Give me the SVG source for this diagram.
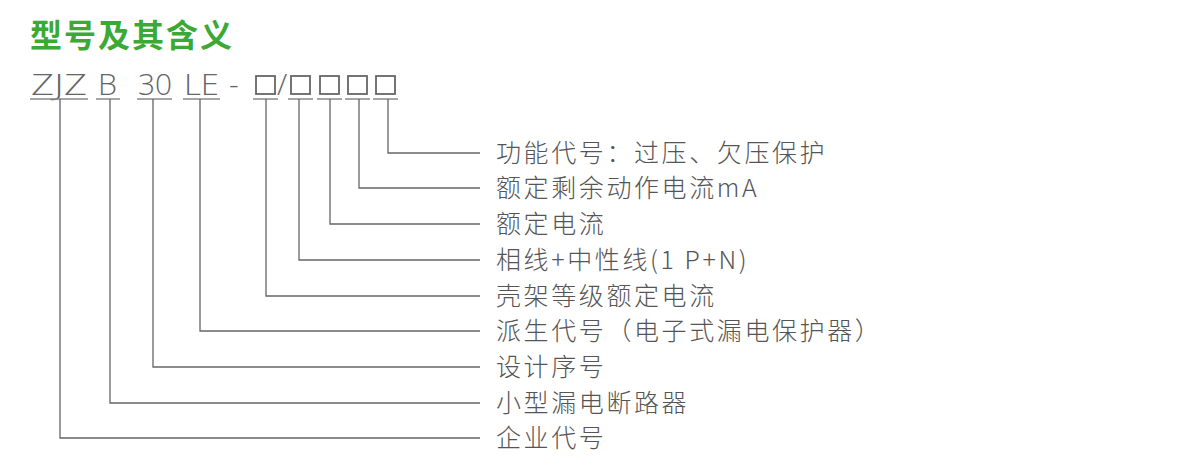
<svg xmlns="http://www.w3.org/2000/svg" width="1203" height="465" viewBox="0 0 1203 465">
<style>
.t{font-family:"Noto Sans CJK SC",sans-serif;fill:#555;font-size:25px;font-weight:300;letter-spacing:2.6px}
.c{font-family:"Open Sans","Liberation Sans",sans-serif;fill:#666;font-size:30px;font-weight:300}
.l{stroke:#666;stroke-width:1.3;fill:none}
.u{stroke:#888;stroke-width:1.5}
.b{stroke:#666;stroke-width:1.8;fill:none}
</style>
<rect width="1203" height="465" fill="#fff"/>
<text x="30" y="47" style="font-family:'Noto Sans CJK SC',sans-serif;font-weight:bold;font-size:32px;fill:#3aa935;letter-spacing:2px">型号及其含义</text>
<g id="code">
<text class="c" x="31" y="95" textLength="56" lengthAdjust="spacingAndGlyphs">ZJZ</text>
<text class="c" x="98" y="95" textLength="19" lengthAdjust="spacingAndGlyphs">B</text>
<text class="c" x="138" y="95" textLength="34" lengthAdjust="spacingAndGlyphs">30</text>
<text class="c" x="184" y="95" textLength="35" lengthAdjust="spacingAndGlyphs">LE</text>
<text class="c" x="229" y="95">-</text>
<rect class="b" x="256" y="76" width="19" height="18"/>
<text class="c" x="277" y="95">/</text>
<rect class="b" x="291" y="76" width="19" height="18"/>
<rect class="b" x="320" y="76" width="19" height="18"/>
<rect class="b" x="348" y="76" width="19" height="18"/>
<rect class="b" x="376" y="76" width="19" height="18"/>
<line class="u" x1="30" y1="99" x2="88" y2="99"/>
<line class="u" x1="96" y1="99" x2="120" y2="99"/>
<line class="u" x1="137" y1="99" x2="172" y2="99"/>
<line class="u" x1="183" y1="99" x2="220" y2="99"/>
<line class="u" x1="253" y1="99" x2="278" y2="99"/>
<line class="u" x1="288" y1="99" x2="313" y2="99"/>
<line class="u" x1="317" y1="99" x2="342" y2="99"/>
<line class="u" x1="345" y1="99" x2="370" y2="99"/>
<line class="u" x1="373" y1="99" x2="398" y2="99"/>
</g>
<g id="connectors">
<path class="l" d="M388 99V153H480"/>
<path class="l" d="M359 99V188H480"/>
<path class="l" d="M330 99V224H480"/>
<path class="l" d="M299 99V260H480"/>
<path class="l" d="M266 99V296H480"/>
<path class="l" d="M200 99V331H480"/>
<path class="l" d="M153 99V367H480"/>
<path class="l" d="M110 99V403H480"/>
<path class="l" d="M60 99V438H480"/>
</g>
<g id="labels">
<text class="t" x="496" y="162">功能代号：过压、欠压保护</text>
<text class="t" x="496" y="197">额定剩余动作电流mA</text>
<text class="t" x="496" y="233">额定电流</text>
<text class="t" x="496" y="269">相线+中性线(1 P+N)</text>
<text class="t" x="496" y="305">壳架等级额定电流</text>
<text class="t" x="496" y="340">派生代号（电子式漏电保护器）</text>
<text class="t" x="496" y="376">设计序号</text>
<text class="t" x="496" y="412">小型漏电断路器</text>
<text class="t" x="496" y="447">企业代号</text>
</g>
</svg>
